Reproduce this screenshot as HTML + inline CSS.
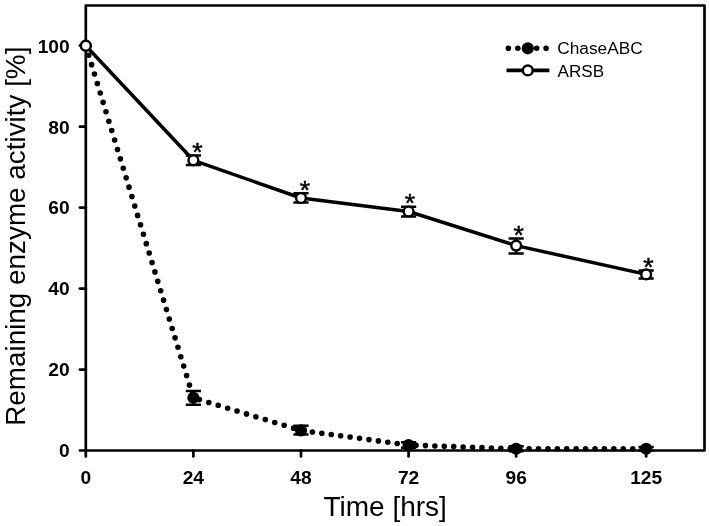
<!DOCTYPE html><html><head><meta charset="utf-8"><style>html,body{margin:0;padding:0;background:#fff;}svg{display:block;will-change:transform;}text{font-family:"Liberation Sans",Arial,sans-serif;fill:#000;}</style></head><body>
<svg width="710" height="526" viewBox="0 0 710 526">
<rect width="710" height="526" fill="#fff"/>
<rect x="85.8" y="5.5" width="618.70" height="445.00" fill="none" stroke="#000" stroke-width="2.7" stroke-linejoin="round"/>
<line x1="79.90" y1="450.50" x2="85.8" y2="450.50" stroke="#000" stroke-width="2.7" stroke-linecap="round"/>
<text x="69.7" y="457.35" text-anchor="end" font-weight="bold" font-size="19.2">0</text>
<line x1="79.90" y1="369.54" x2="85.8" y2="369.54" stroke="#000" stroke-width="2.7" stroke-linecap="round"/>
<text x="69.7" y="376.39" text-anchor="end" font-weight="bold" font-size="19.2">20</text>
<line x1="79.90" y1="288.58" x2="85.8" y2="288.58" stroke="#000" stroke-width="2.7" stroke-linecap="round"/>
<text x="69.7" y="295.43" text-anchor="end" font-weight="bold" font-size="19.2">40</text>
<line x1="79.90" y1="207.62" x2="85.8" y2="207.62" stroke="#000" stroke-width="2.7" stroke-linecap="round"/>
<text x="69.7" y="214.47" text-anchor="end" font-weight="bold" font-size="19.2">60</text>
<line x1="79.90" y1="126.66" x2="85.8" y2="126.66" stroke="#000" stroke-width="2.7" stroke-linecap="round"/>
<text x="69.7" y="133.51" text-anchor="end" font-weight="bold" font-size="19.2">80</text>
<line x1="79.90" y1="45.70" x2="85.8" y2="45.70" stroke="#000" stroke-width="2.7" stroke-linecap="round"/>
<text x="69.7" y="52.55" text-anchor="end" font-weight="bold" font-size="19.2">100</text>
<line x1="85.80" y1="450.5" x2="85.80" y2="456.40" stroke="#000" stroke-width="2.7" stroke-linecap="round"/>
<text x="85.80" y="484.3" text-anchor="middle" font-weight="bold" font-size="19.2">0</text>
<line x1="193.39" y1="450.5" x2="193.39" y2="456.40" stroke="#000" stroke-width="2.7" stroke-linecap="round"/>
<text x="193.39" y="484.3" text-anchor="middle" font-weight="bold" font-size="19.2">24</text>
<line x1="300.98" y1="450.5" x2="300.98" y2="456.40" stroke="#000" stroke-width="2.7" stroke-linecap="round"/>
<text x="300.98" y="484.3" text-anchor="middle" font-weight="bold" font-size="19.2">48</text>
<line x1="408.58" y1="450.5" x2="408.58" y2="456.40" stroke="#000" stroke-width="2.7" stroke-linecap="round"/>
<text x="408.58" y="484.3" text-anchor="middle" font-weight="bold" font-size="19.2">72</text>
<line x1="516.17" y1="450.5" x2="516.17" y2="456.40" stroke="#000" stroke-width="2.7" stroke-linecap="round"/>
<text x="516.17" y="484.3" text-anchor="middle" font-weight="bold" font-size="19.2">96</text>
<line x1="646.17" y1="450.5" x2="646.17" y2="456.40" stroke="#000" stroke-width="2.7" stroke-linecap="round"/>
<text x="646.17" y="484.3" text-anchor="middle" font-weight="bold" font-size="19.2">125</text>
<text x="385.2" y="516" text-anchor="middle" font-size="28">Time [hrs]</text>
<text transform="translate(24.8,236.2) rotate(-90)" x="0" y="0" text-anchor="middle" font-size="27.85">Remaining enzyme activity [%]</text>
<path d="M83.04 45.83a2.8 2.8 0 1 0 5.6 0a2.8 2.8 0 1 0 -5.6 0M85.92 55.25a2.8 2.8 0 1 0 5.6 0a2.8 2.8 0 1 0 -5.6 0M88.80 64.67a2.8 2.8 0 1 0 5.6 0a2.8 2.8 0 1 0 -5.6 0M91.68 74.09a2.8 2.8 0 1 0 5.6 0a2.8 2.8 0 1 0 -5.6 0M94.55 83.51a2.8 2.8 0 1 0 5.6 0a2.8 2.8 0 1 0 -5.6 0M97.43 92.93a2.8 2.8 0 1 0 5.6 0a2.8 2.8 0 1 0 -5.6 0M100.31 102.35a2.8 2.8 0 1 0 5.6 0a2.8 2.8 0 1 0 -5.6 0M103.19 111.77a2.8 2.8 0 1 0 5.6 0a2.8 2.8 0 1 0 -5.6 0M106.07 121.19a2.8 2.8 0 1 0 5.6 0a2.8 2.8 0 1 0 -5.6 0M108.95 130.61a2.8 2.8 0 1 0 5.6 0a2.8 2.8 0 1 0 -5.6 0M111.82 140.03a2.8 2.8 0 1 0 5.6 0a2.8 2.8 0 1 0 -5.6 0M114.70 149.45a2.8 2.8 0 1 0 5.6 0a2.8 2.8 0 1 0 -5.6 0M117.58 158.87a2.8 2.8 0 1 0 5.6 0a2.8 2.8 0 1 0 -5.6 0M120.46 168.29a2.8 2.8 0 1 0 5.6 0a2.8 2.8 0 1 0 -5.6 0M123.34 177.71a2.8 2.8 0 1 0 5.6 0a2.8 2.8 0 1 0 -5.6 0M126.22 187.13a2.8 2.8 0 1 0 5.6 0a2.8 2.8 0 1 0 -5.6 0M129.10 196.55a2.8 2.8 0 1 0 5.6 0a2.8 2.8 0 1 0 -5.6 0M131.97 205.97a2.8 2.8 0 1 0 5.6 0a2.8 2.8 0 1 0 -5.6 0M134.85 215.39a2.8 2.8 0 1 0 5.6 0a2.8 2.8 0 1 0 -5.6 0M137.73 224.81a2.8 2.8 0 1 0 5.6 0a2.8 2.8 0 1 0 -5.6 0M140.61 234.23a2.8 2.8 0 1 0 5.6 0a2.8 2.8 0 1 0 -5.6 0M143.49 243.65a2.8 2.8 0 1 0 5.6 0a2.8 2.8 0 1 0 -5.6 0M146.37 253.07a2.8 2.8 0 1 0 5.6 0a2.8 2.8 0 1 0 -5.6 0M149.25 262.49a2.8 2.8 0 1 0 5.6 0a2.8 2.8 0 1 0 -5.6 0M152.12 271.91a2.8 2.8 0 1 0 5.6 0a2.8 2.8 0 1 0 -5.6 0M155.00 281.33a2.8 2.8 0 1 0 5.6 0a2.8 2.8 0 1 0 -5.6 0M157.88 290.75a2.8 2.8 0 1 0 5.6 0a2.8 2.8 0 1 0 -5.6 0M160.76 300.17a2.8 2.8 0 1 0 5.6 0a2.8 2.8 0 1 0 -5.6 0M163.64 309.59a2.8 2.8 0 1 0 5.6 0a2.8 2.8 0 1 0 -5.6 0M166.52 319.01a2.8 2.8 0 1 0 5.6 0a2.8 2.8 0 1 0 -5.6 0M169.39 328.43a2.8 2.8 0 1 0 5.6 0a2.8 2.8 0 1 0 -5.6 0M172.27 337.85a2.8 2.8 0 1 0 5.6 0a2.8 2.8 0 1 0 -5.6 0M175.15 347.27a2.8 2.8 0 1 0 5.6 0a2.8 2.8 0 1 0 -5.6 0M178.03 356.69a2.8 2.8 0 1 0 5.6 0a2.8 2.8 0 1 0 -5.6 0M180.91 366.11a2.8 2.8 0 1 0 5.6 0a2.8 2.8 0 1 0 -5.6 0M183.79 375.53a2.8 2.8 0 1 0 5.6 0a2.8 2.8 0 1 0 -5.6 0M186.67 384.95a2.8 2.8 0 1 0 5.6 0a2.8 2.8 0 1 0 -5.6 0M189.54 394.37a2.8 2.8 0 1 0 5.6 0a2.8 2.8 0 1 0 -5.6 0M196.58 399.61a2.8 2.8 0 1 0 5.6 0a2.8 2.8 0 1 0 -5.6 0M206.00 402.47a2.8 2.8 0 1 0 5.6 0a2.8 2.8 0 1 0 -5.6 0M215.42 405.32a2.8 2.8 0 1 0 5.6 0a2.8 2.8 0 1 0 -5.6 0M224.84 408.18a2.8 2.8 0 1 0 5.6 0a2.8 2.8 0 1 0 -5.6 0M234.26 411.03a2.8 2.8 0 1 0 5.6 0a2.8 2.8 0 1 0 -5.6 0M243.68 413.89a2.8 2.8 0 1 0 5.6 0a2.8 2.8 0 1 0 -5.6 0M253.10 416.74a2.8 2.8 0 1 0 5.6 0a2.8 2.8 0 1 0 -5.6 0M262.52 419.59a2.8 2.8 0 1 0 5.6 0a2.8 2.8 0 1 0 -5.6 0M271.94 422.45a2.8 2.8 0 1 0 5.6 0a2.8 2.8 0 1 0 -5.6 0M281.36 425.30a2.8 2.8 0 1 0 5.6 0a2.8 2.8 0 1 0 -5.6 0M290.78 428.16a2.8 2.8 0 1 0 5.6 0a2.8 2.8 0 1 0 -5.6 0M300.20 430.67a2.8 2.8 0 1 0 5.6 0a2.8 2.8 0 1 0 -5.6 0M309.62 431.95a2.8 2.8 0 1 0 5.6 0a2.8 2.8 0 1 0 -5.6 0M319.04 433.23a2.8 2.8 0 1 0 5.6 0a2.8 2.8 0 1 0 -5.6 0M328.46 434.51a2.8 2.8 0 1 0 5.6 0a2.8 2.8 0 1 0 -5.6 0M337.88 435.79a2.8 2.8 0 1 0 5.6 0a2.8 2.8 0 1 0 -5.6 0M347.30 437.07a2.8 2.8 0 1 0 5.6 0a2.8 2.8 0 1 0 -5.6 0M356.72 438.34a2.8 2.8 0 1 0 5.6 0a2.8 2.8 0 1 0 -5.6 0M366.14 439.62a2.8 2.8 0 1 0 5.6 0a2.8 2.8 0 1 0 -5.6 0M375.56 440.90a2.8 2.8 0 1 0 5.6 0a2.8 2.8 0 1 0 -5.6 0M384.98 442.18a2.8 2.8 0 1 0 5.6 0a2.8 2.8 0 1 0 -5.6 0M394.40 443.46a2.8 2.8 0 1 0 5.6 0a2.8 2.8 0 1 0 -5.6 0M403.82 444.73a2.8 2.8 0 1 0 5.6 0a2.8 2.8 0 1 0 -5.6 0M413.24 445.26a2.8 2.8 0 1 0 5.6 0a2.8 2.8 0 1 0 -5.6 0M422.66 445.60a2.8 2.8 0 1 0 5.6 0a2.8 2.8 0 1 0 -5.6 0M432.08 445.93a2.8 2.8 0 1 0 5.6 0a2.8 2.8 0 1 0 -5.6 0M441.50 446.26a2.8 2.8 0 1 0 5.6 0a2.8 2.8 0 1 0 -5.6 0M450.92 446.59a2.8 2.8 0 1 0 5.6 0a2.8 2.8 0 1 0 -5.6 0M460.34 446.93a2.8 2.8 0 1 0 5.6 0a2.8 2.8 0 1 0 -5.6 0M469.76 447.26a2.8 2.8 0 1 0 5.6 0a2.8 2.8 0 1 0 -5.6 0M479.18 447.59a2.8 2.8 0 1 0 5.6 0a2.8 2.8 0 1 0 -5.6 0M488.60 447.93a2.8 2.8 0 1 0 5.6 0a2.8 2.8 0 1 0 -5.6 0M498.02 448.26a2.8 2.8 0 1 0 5.6 0a2.8 2.8 0 1 0 -5.6 0M507.44 448.59a2.8 2.8 0 1 0 5.6 0a2.8 2.8 0 1 0 -5.6 0M516.86 448.80a2.8 2.8 0 1 0 5.6 0a2.8 2.8 0 1 0 -5.6 0M526.28 448.80a2.8 2.8 0 1 0 5.6 0a2.8 2.8 0 1 0 -5.6 0M535.70 448.80a2.8 2.8 0 1 0 5.6 0a2.8 2.8 0 1 0 -5.6 0M545.12 448.80a2.8 2.8 0 1 0 5.6 0a2.8 2.8 0 1 0 -5.6 0M554.54 448.80a2.8 2.8 0 1 0 5.6 0a2.8 2.8 0 1 0 -5.6 0M563.96 448.80a2.8 2.8 0 1 0 5.6 0a2.8 2.8 0 1 0 -5.6 0M573.38 448.80a2.8 2.8 0 1 0 5.6 0a2.8 2.8 0 1 0 -5.6 0M582.80 448.80a2.8 2.8 0 1 0 5.6 0a2.8 2.8 0 1 0 -5.6 0M592.22 448.80a2.8 2.8 0 1 0 5.6 0a2.8 2.8 0 1 0 -5.6 0M601.64 448.80a2.8 2.8 0 1 0 5.6 0a2.8 2.8 0 1 0 -5.6 0M611.06 448.80a2.8 2.8 0 1 0 5.6 0a2.8 2.8 0 1 0 -5.6 0M620.48 448.80a2.8 2.8 0 1 0 5.6 0a2.8 2.8 0 1 0 -5.6 0M629.90 448.80a2.8 2.8 0 1 0 5.6 0a2.8 2.8 0 1 0 -5.6 0M639.32 448.80a2.8 2.8 0 1 0 5.6 0a2.8 2.8 0 1 0 -5.6 0" fill="#000"/>
<path d="M193.39 391.00V404.70M185.79 391.00H200.99M185.79 404.70H200.99" stroke="#000" stroke-width="2.5" fill="none"/>
<path d="M300.98 425.80V434.60M293.38 425.80H308.58M293.38 434.60H308.58" stroke="#000" stroke-width="2.5" fill="none"/>
<path d="M408.58 442.20V447.80M400.98 442.20H416.18M400.98 447.80H416.18" stroke="#000" stroke-width="2.5" fill="none"/>
<path d="M516.17 446.30V451.30M508.57 446.30H523.77M508.57 451.30H523.77" stroke="#000" stroke-width="2.5" fill="none"/>
<path d="M646.17 446.90V450.70M638.57 446.90H653.77M638.57 450.70H653.77" stroke="#000" stroke-width="2.5" fill="none"/>
<circle cx="85.80" cy="45.70" r="6.1" fill="#000"/>
<circle cx="193.39" cy="397.80" r="6.1" fill="#000"/>
<circle cx="300.98" cy="430.40" r="6.1" fill="#000"/>
<circle cx="408.58" cy="445.00" r="6.1" fill="#000"/>
<circle cx="516.17" cy="448.80" r="6.1" fill="#000"/>
<circle cx="646.17" cy="448.80" r="6.1" fill="#000"/>
<polyline points="85.80,45.70 193.39,160.30 300.98,198.00 408.58,211.50 516.17,245.60 646.17,274.40" fill="none" stroke="#000" stroke-width="3.5" stroke-linejoin="round"/>
<path d="M193.39 155.50V164.90M185.79 155.50H200.99M185.79 164.90H200.99" stroke="#000" stroke-width="2.5" fill="none"/>
<path d="M300.98 193.20V202.50M293.38 193.20H308.58M293.38 202.50H308.58" stroke="#000" stroke-width="2.5" fill="none"/>
<path d="M408.58 206.70V216.60M400.98 206.70H416.18M400.98 216.60H416.18" stroke="#000" stroke-width="2.5" fill="none"/>
<path d="M516.17 238.40V253.40M508.57 238.40H523.77M508.57 253.40H523.77" stroke="#000" stroke-width="2.5" fill="none"/>
<path d="M646.17 270.50V278.60M638.57 270.50H653.77M638.57 278.60H653.77" stroke="#000" stroke-width="2.5" fill="none"/>
<circle cx="85.80" cy="45.70" r="4.9" fill="#fff" stroke="#000" stroke-width="2.4"/>
<circle cx="193.39" cy="160.30" r="4.9" fill="#fff" stroke="#000" stroke-width="2.4"/>
<circle cx="300.98" cy="198.00" r="4.9" fill="#fff" stroke="#000" stroke-width="2.4"/>
<circle cx="408.58" cy="211.50" r="4.9" fill="#fff" stroke="#000" stroke-width="2.4"/>
<circle cx="516.17" cy="245.60" r="4.9" fill="#fff" stroke="#000" stroke-width="2.4"/>
<circle cx="646.17" cy="274.40" r="4.9" fill="#fff" stroke="#000" stroke-width="2.4"/>
<text x="197.50" y="160.50" text-anchor="middle" stroke="#000" stroke-width="0.5" font-size="26.5">*</text>
<text x="304.80" y="198.60" text-anchor="middle" stroke="#000" stroke-width="0.5" font-size="26.5">*</text>
<text x="410.00" y="211.50" text-anchor="middle" stroke="#000" stroke-width="0.5" font-size="26.5">*</text>
<text x="518.60" y="244.30" text-anchor="middle" stroke="#000" stroke-width="0.5" font-size="26.5">*</text>
<text x="648.40" y="275.60" text-anchor="middle" stroke="#000" stroke-width="0.5" font-size="26.5">*</text>
<path d="M505.60 48.3a2.8 2.8 0 1 0 5.6 0a2.8 2.8 0 1 0 -5.6 0M515.02 48.3a2.8 2.8 0 1 0 5.6 0a2.8 2.8 0 1 0 -5.6 0M524.44 48.3a2.8 2.8 0 1 0 5.6 0a2.8 2.8 0 1 0 -5.6 0M533.86 48.3a2.8 2.8 0 1 0 5.6 0a2.8 2.8 0 1 0 -5.6 0M543.28 48.3a2.8 2.8 0 1 0 5.6 0a2.8 2.8 0 1 0 -5.6 0" fill="#000"/>
<circle cx="527.8" cy="48.3" r="6.1" fill="#000"/>
<line x1="506.5" y1="70.4" x2="549.4" y2="70.4" stroke="#000" stroke-width="3.8"/>
<circle cx="527.8" cy="70.4" r="4.9" fill="#fff" stroke="#000" stroke-width="2.4"/>
<text x="557.2" y="54.3" font-size="17.3">ChaseABC</text>
<text x="557.6" y="76.5" font-size="17.1">ARSB</text>
</svg></body></html>
